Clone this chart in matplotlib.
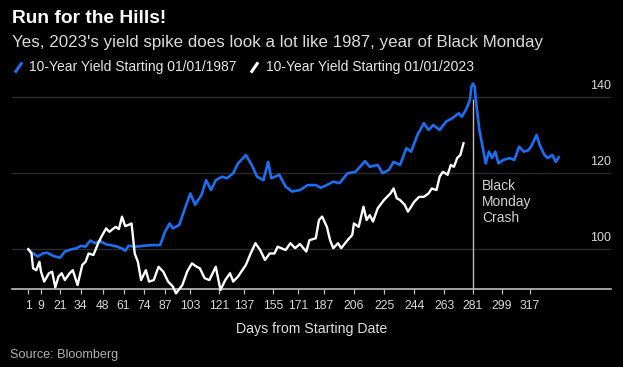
import matplotlib
matplotlib.use("Agg")
import matplotlib.pyplot as plt
import matplotlib.transforms as mtransforms
from matplotlib.lines import Line2D

# --- data ---
days_1987 = [1, 4, 7, 10, 13, 17, 21, 24, 28, 31, 34, 37, 40, 43, 46, 50, 54, 57, 60, 62,
             64, 69, 73, 79, 84, 87, 90, 92, 96, 100, 103, 106, 110, 113, 116, 119, 123, 126,
             130, 133, 138, 142, 145, 149, 152, 154, 159, 163, 167, 172, 177, 182, 185, 188,
             193, 197, 202, 207, 213, 216, 221, 224, 228, 231, 235, 239, 242, 246, 250, 253,
             256, 260, 264, 268, 272, 274, 277, 279, 280, 281, 282, 283, 285, 287, 289, 291,
             293, 295, 297, 300, 304, 307, 310, 313, 316, 318, 321, 323, 326, 328, 331, 333,
             335]
yield_1987 = [100.0, 98.9, 98.1, 98.9, 99.1, 98.2, 97.8, 99.4, 100.0, 100.2, 100.9, 100.7,
              102.3, 101.6, 102.2, 101.3, 101.0, 100.7, 100.2, 99.6, 100.9, 100.7, 100.9,
              101.1, 101.1, 104.6, 106.8, 105.5, 106.4, 111.2, 114.7, 111.7, 114.3, 118.2,
              115.6, 118.2, 119.1, 118.7, 120.0, 122.6, 124.8, 121.9, 119.1, 118.2, 123.0,
              118.7, 119.6, 116.5, 115.2, 115.6, 116.9, 116.9, 116.2, 116.7, 117.8, 117.4,
              120.0, 120.4, 123.2, 121.7, 122.2, 120.0, 120.9, 123.0, 122.2, 126.6, 125.7,
              130.1, 133.2, 131.4, 132.7, 131.4, 133.6, 134.5, 135.8, 134.9, 137.1, 139.3,
              142.8, 143.6, 142.8, 138.4, 131.4, 127.0, 122.6, 125.7, 124.0, 125.7, 122.6,
              123.5, 124.0, 123.5, 127.0, 125.7, 126.1, 127.4, 130.1, 127.4, 124.8, 124.0,
              124.8, 123.0, 124.2]

days_2023 = [1, 3, 4, 6, 8, 9, 11, 14, 16, 18, 20, 22, 24, 27, 29, 32, 35, 37, 39, 42, 45,
             47, 50, 52, 56, 58, 60, 62, 64, 66, 68, 70, 72, 75, 77, 80, 83, 86, 89, 92, 94,
             98, 101, 104, 107, 109, 112, 115, 119, 122, 125, 128, 130, 133, 138, 141, 144,
             147, 150, 153, 156, 158, 163, 166, 169, 172, 176, 178, 182, 184, 186, 189, 191,
             193, 196, 198, 202, 205, 206, 209, 212, 214, 216, 218, 221, 225, 229, 231, 233,
             235, 238, 240, 244, 247, 250, 253, 255, 258, 260, 262, 265, 267, 269, 271, 273, 275]
yield_2023 = [100.0, 98.9, 95.0, 94.5, 96.7, 94.1, 91.5, 93.7, 94.1, 90.0, 92.8, 93.7, 91.9,
              93.7, 94.5, 90.6, 95.9, 96.7, 98.9, 98.5, 101.6, 103.3, 105.5, 104.6, 105.9,
              105.3, 108.6, 106.1, 106.4, 106.8, 98.9, 96.7, 91.9, 94.5, 91.5, 91.9, 95.4,
              94.1, 91.5, 90.2, 88.4, 90.6, 94.1, 96.3, 95.4, 95.0, 92.4, 91.9, 95.4, 89.3,
              91.9, 93.7, 91.5, 92.8, 95.9, 98.9, 101.6, 99.8, 97.2, 98.9, 98.9, 100.7, 99.8,
              101.6, 100.3, 101.4, 99.4, 102.4, 102.9, 107.7, 108.6, 105.9, 102.4, 100.3,
              101.6, 100.3, 102.4, 103.8, 106.8, 105.9, 111.2, 107.7, 109.0, 107.3, 110.8,
              113.0, 114.7, 116.0, 113.4, 113.0, 111.7, 109.9, 112.5, 113.8, 113.8, 114.7,
              116.0, 115.6, 119.1, 120.4, 119.6, 122.2, 121.7, 124.0, 124.8, 127.9]

x_ticks = [1, 9, 21, 34, 48, 61, 74, 87, 103, 121, 137, 155, 171, 187, 206, 225, 244, 263,
           281, 299, 317]
y_ticks = [100, 120, 140]

crash_day = 281
crash_top = 139.5

BLUE = "#1c6ff0"
BG = "black"

fig = plt.figure(figsize=(6.23, 3.67), dpi=100, facecolor=BG)
ax = fig.add_axes([0.0188, 0.2117, 0.9615, 0.5703], facecolor=BG)

ax.set_xlim(-9.45, 367.7)
ax.set_ylim(89.47, 144.55)

# gridlines
for v in y_ticks:
    ax.axhline(v, color="#2a2a2a", lw=1.0, zorder=0)

# crash marker
ax.vlines(crash_day, 89.47, crash_top, color="#bdbdbd", lw=1.0, zorder=1)
ax.text(286.5, 118.5, "Black\nMonday\nCrash", color="#d0d0d0", fontsize=10,
        ha="left", va="top", linespacing=1.2, family="Liberation Sans")

ax.plot(days_1987, yield_1987, color=BLUE, lw=1.9, zorder=3, solid_joinstyle="round")
ax.plot(days_2023, yield_2023, color="white", lw=1.7, zorder=4, clip_on=False,
        solid_joinstyle="round")

# axes styling
for s in ["left", "right", "top"]:
    ax.spines[s].set_visible(False)
ax.spines["bottom"].set_color("#bdbdbd")
ax.spines["bottom"].set_linewidth(1.2)

ax.set_xticks(x_ticks)
ax.set_xticklabels([str(t) for t in x_ticks], family="Liberation Sans", fontsize=8.8,
                   color="#d6d6d6")
ax.tick_params(axis="x", length=3.8, width=0.9, color="#bdbdbd", pad=4)
ax.set_yticks([])

# right-hand value labels sit just above their gridlines
offset = mtransforms.ScaledTranslation(0, 6.3 / 72, fig.dpi_scale_trans)
trans = mtransforms.blended_transform_factory(ax.transAxes, ax.transData) + offset
for v in y_ticks:
    ax.text(1.0, v, str(v), transform=trans, ha="right", va="baseline",
            color="#d6d6d6", fontsize=9, family="Liberation Sans")

ax.set_xlabel("Days from Starting Date", color="#e0e0e0", fontsize=10.2,
              family="Liberation Sans", labelpad=7)

# titles
fig.text(12 / 623, 1 - 23.3 / 367, "Run for the Hills!", color="white", fontsize=13.8,
         fontweight="bold", family="Liberation Sans", va="baseline")
fig.text(12 / 623, 1 - 46.7 / 367,
         "Yes, 2023's yield spike does look a lot like 1987, year of Black Monday",
         color="#dadada", fontsize=12.2, family="Liberation Sans", va="baseline")
fig.text(10 / 623, 1 - 358 / 367, "Source: Bloomberg", color="#b0b0b0", fontsize=9.1,
         family="Liberation Sans", va="baseline")

handles = [
    Line2D([], [], ls="none", marker=(2, 0, -35), markersize=9, mew=2.2, mec=BLUE),
    Line2D([], [], ls="none", marker=(2, 0, -35), markersize=9, mew=2.2, mec="white"),
]
leg = fig.legend(handles, ["10-Year Yield Starting 01/01/1987",
                           "10-Year Yield Starting 01/01/2023"],
                 loc="center left", bbox_to_anchor=(12 / 623, 1 - 67.5 / 367), ncol=2,
                 frameon=False, borderpad=0, borderaxespad=0, handlelength=0.8,
                 handletextpad=0.45, columnspacing=0.85,
                 prop={"family": "Liberation Sans", "size": 10})
for t in leg.get_texts():
    t.set_color("#e6e6e6")

fig.savefig("out.png", dpi=100, facecolor=BG)
